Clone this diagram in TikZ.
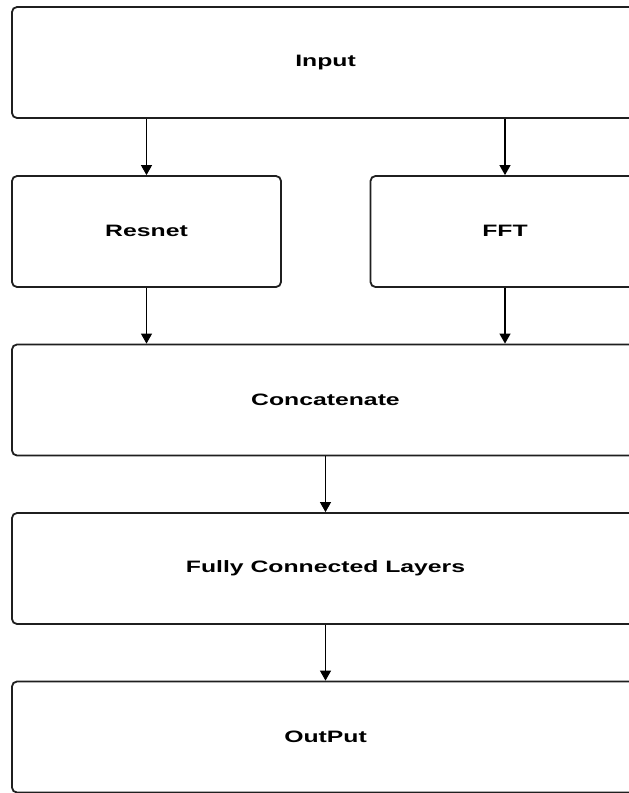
\documentclass[tikz,border=0pt]{standalone}
\usepackage{fontspec}
\setmainfont{Liberation Sans}
\usetikzlibrary{arrows.meta}
\tikzset{
  blockbox/.style={draw=black!88, line width=1.8pt, rounded corners=5pt,
    inner sep=0pt, minimum height=111pt, font=\fontsize{16.5}{19}\selectfont\bfseries},
  widebox/.style={blockbox, minimum width=627pt},
  halfbox/.style={blockbox, minimum width=269pt},
  flow/.style={draw=black, line width=1.1pt, -{Triangle[width=11pt,length=10pt]}}
}
\newcommand{\boxtext}[1]{\raisebox{1.5pt}{\scalebox{1.5}[1]{#1}}}
\begin{document}
\begin{tikzpicture}[x=1pt,y=-1pt]
  \useasboundingbox (0,0) rectangle (629,793);
  \clip (0,0) rectangle (629,793);
  \fill[white] (0,0) rectangle (629,793);

  % blocks
  \node[widebox] (in)  at (325.5,62.5)  {\boxtext{Input}};
  \node[halfbox] (res) at (146.5,231.5) {\boxtext{Resnet}};
  \node[halfbox] (fft) at (505,231.5)   {\boxtext{FFT}};
  \node[widebox] (cat) at (325.5,400)   {\boxtext{Concatenate}};
  \node[widebox] (fc)  at (325.5,568.5) {\boxtext{Fully Connected Layers}};
  \node[widebox] (out) at (325.5,737)   {\boxtext{OutPut}};

  % connectors
  \draw[flow] (in.south -| res.north) -- (res.north);
  \draw[flow] (in.south -| fft.north) -- (fft.north);
  \draw[flow] (res.south) -- (res.south |- cat.north);
  \draw[flow] (fft.south) -- (fft.south |- cat.north);
  \draw[flow] (cat.south) -- (fc.north);
  \draw[flow] (fc.south) -- (out.north);
\end{tikzpicture}
\end{document}
